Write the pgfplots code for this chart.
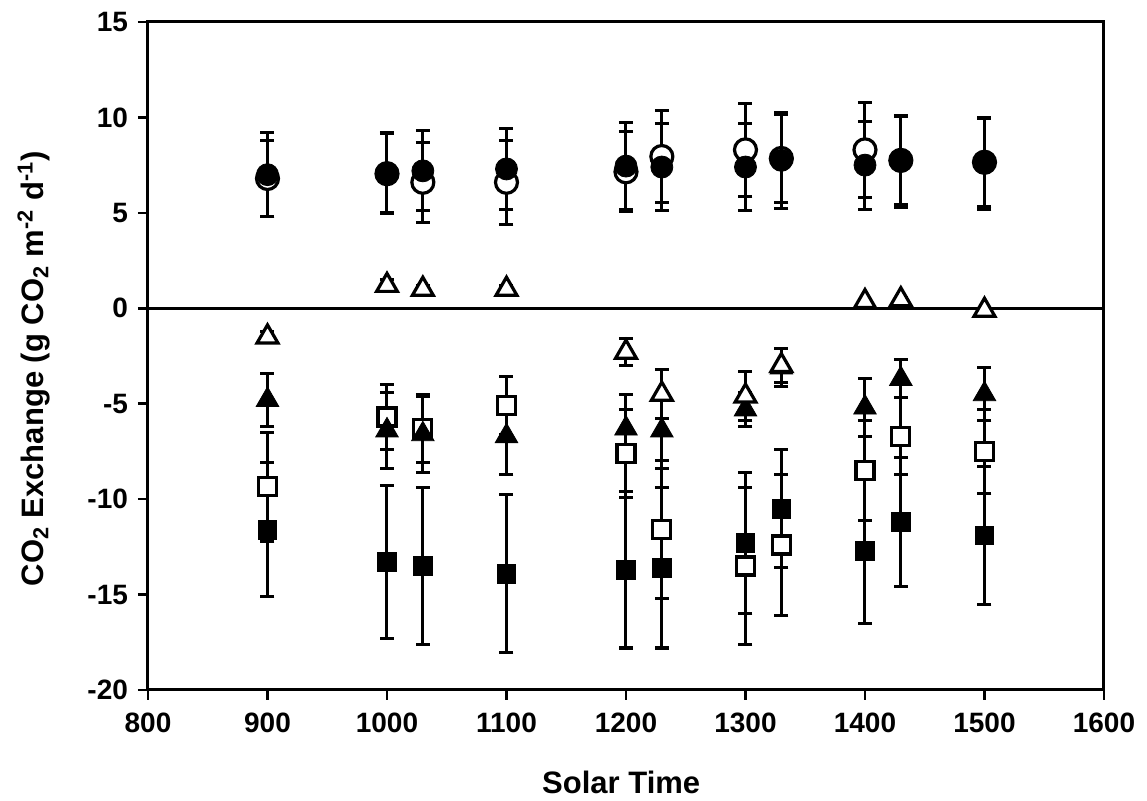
\documentclass[border=0pt]{standalone}
\usepackage{fontspec}
\setmainfont{Liberation Sans}
\usepackage{pgfplots}
\usepackage{pgfplotstable}
\pgfplotsset{compat=1.18}

% x  y  err
\pgfplotstableread{
x y e
900 7.0 2.2
1000 7.1 2.1
1030 7.2 2.1
1100 7.3 2.1
1200 7.45 2.3
1230 7.4 2.3
1300 7.4 2.3
1330 7.75 2.5
1400 7.5 2.3
1430 7.7 2.4
1500 7.6 2.4
}\fcirc
\pgfplotstableread{
x y e
900 6.8 2.0
1000 7.05 2.1
1030 6.6 2.1
1100 6.6 2.2
1200 7.15 2.1
1230 7.95 2.4
1300 8.3 2.45
1330 7.85 2.3
1400 8.3 2.5
1430 7.75 2.3
1500 7.65 2.3
}\ocirc
\pgfplotstableread{
x y e
900 -1.5 0.3
1000 1.2 0.3
1030 1.0 0.2
1100 1.0 0.2
1200 -2.3 0.7
1230 -4.5 1.3
1300 -4.6 1.3
1330 -3.0 0.9
1400 0.35 0.1
1430 0.45 0.1
1500 -0.1 0.1
}\otri
\pgfplotstableread{
x y e
900 -4.8 1.4
1000 -6.4 2.0
1030 -6.6 2.0
1100 -6.7 2.0
1200 -6.3 1.8
1230 -6.4 2.0
1300 -5.3 0.9
1330 -3.1 1.0
1400 -5.2 1.5
1430 -3.7 1.0
1500 -4.5 1.4
}\ftri
\pgfplotstableread{
x y e
900 -9.35 2.85
1000 -5.7 1.7
1030 -6.3 1.8
1100 -5.1 1.5
1200 -7.6 2.3
1230 -11.6 3.6
1300 -13.5 4.1
1330 -12.4 3.7
1400 -8.5 2.6
1430 -6.7 2.0
1500 -7.5 2.2
}\osq
\pgfplotstableread{
x y e
900 -11.6 3.5
1000 -13.3 4.0
1030 -13.5 4.1
1100 -13.9 4.15
1200 -13.7 4.1
1230 -13.6 4.2
1300 -12.3 3.7
1330 -10.5 3.1
1400 -12.7 3.8
1430 -11.2 3.4
1500 -11.9 3.6
}\fsq

\begin{document}
\begin{tikzpicture}
\begin{axis}[
  scale only axis,
  width=478pt, height=334pt,
  xmin=800, xmax=1600, ymin=-20, ymax=15,
  xtick={800,900,...,1600},
  ytick={-20,-15,...,15},
  tick pos=left,
  tick align=outside,
  major tick length=5pt,
  every tick/.style={line width=1.3pt, black},
  axis line style={line width=1.5pt},
  /pgf/number format/assume math mode=true,
  /pgf/number format/1000 sep={},
  ticklabel style={font=\bfseries\fontsize{14}{14}\selectfont},
  xticklabel style={yshift=-3pt},
  yticklabel style={xshift=-1.5pt},
  xlabel={Solar Time},
  ylabel={CO\textsubscript{2} Exchange (g CO\textsubscript{2} m\textsuperscript{-2} d\textsuperscript{-1})},
  label style={font=\bfseries\fontsize{15.5}{16}\selectfont},
  xlabel style={at={(axis description cs:0.495,-0.1542)}, anchor=base},
  ylabel style={at={(axis description cs:-0.1098,0.481)}, anchor=base},
  clip=false,
  error bars/y dir=both,
  error bars/y explicit,
  error bars/error bar style={line width=1.5pt, black},
  error bars/error mark options={rotate=90, mark size=3.5pt, line width=1.5pt, black},
]
\draw[line width=1.5pt] (axis cs:800,0) -- (axis cs:1600,0);
\addplot[only marks, mark=square*, mark size=4.7pt, mark options={fill=black, draw=black}] table[x=x, y=y, y error=e] {\fsq};
\addplot[only marks, mark=square*, mark size=4.5pt, mark options={fill=white, draw=black, line width=1.6pt}] table[x=x, y=y, y error=e] {\osq};
\addplot[only marks, mark=triangle*, mark size=6.5pt, mark options={fill=black, draw=black}] table[x=x, y=y, y error=e] {\ftri};
\addplot[only marks, mark=triangle*, mark size=6pt, mark options={fill=white, draw=black, line width=1.6pt}] table[x=x, y=y, y error=e] {\otri};
\addplot[only marks, mark=*, mark size=5.5pt, mark options={fill=white, draw=black, line width=1.6pt}] table[x=x, y=y, y error=e] {\ocirc};
\addplot[only marks, mark=*, mark size=5.5pt, mark options={fill=black, draw=black}] table[x=x, y=y, y error=e] {\fcirc};
\end{axis}
\path (current axis.south west) ++(-74pt,-55.5pt) coordinate (bbl);
\path (current axis.south west) ++(499.5pt,345pt) coordinate (btr);
\path[use as bounding box] (bbl) rectangle (btr);
\end{tikzpicture}
\end{document}
